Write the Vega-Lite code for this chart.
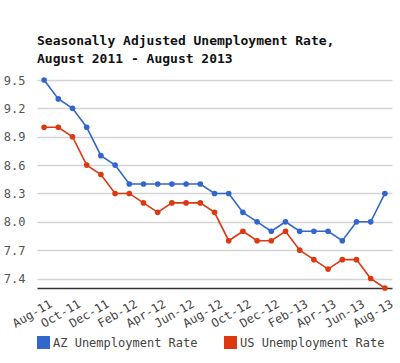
{
  "$schema": "https://vega.github.io/schema/vega-lite/v6.json",
  "width": 355,
  "height": 208,
  "autosize": {"type": "none"},
  "padding": {"left": 37, "top": 80, "right": 8, "bottom": 75},
  "background": "white",
  "title": {
    "text": ["Seasonally Adjusted Unemployment Rate,", "August 2011 - August 2013"],
    "anchor": "start",
    "frame": "group",
    "font": "DejaVu Sans Mono",
    "fontSize": 13,
    "fontWeight": "bold",
    "color": "#111111",
    "offset": 8,
    "lineHeight": 18
  },
  "data": {
    "values": [
      {"month": "Aug-11", "series": "AZ Unemployment Rate", "rate": 9.5},
      {"month": "Sep-11", "series": "AZ Unemployment Rate", "rate": 9.3},
      {"month": "Oct-11", "series": "AZ Unemployment Rate", "rate": 9.2},
      {"month": "Nov-11", "series": "AZ Unemployment Rate", "rate": 9.0},
      {"month": "Dec-11", "series": "AZ Unemployment Rate", "rate": 8.7},
      {"month": "Jan-12", "series": "AZ Unemployment Rate", "rate": 8.6},
      {"month": "Feb-12", "series": "AZ Unemployment Rate", "rate": 8.4},
      {"month": "Mar-12", "series": "AZ Unemployment Rate", "rate": 8.4},
      {"month": "Apr-12", "series": "AZ Unemployment Rate", "rate": 8.4},
      {"month": "May-12", "series": "AZ Unemployment Rate", "rate": 8.4},
      {"month": "Jun-12", "series": "AZ Unemployment Rate", "rate": 8.4},
      {"month": "Jul-12", "series": "AZ Unemployment Rate", "rate": 8.4},
      {"month": "Aug-12", "series": "AZ Unemployment Rate", "rate": 8.3},
      {"month": "Sep-12", "series": "AZ Unemployment Rate", "rate": 8.3},
      {"month": "Oct-12", "series": "AZ Unemployment Rate", "rate": 8.1},
      {"month": "Nov-12", "series": "AZ Unemployment Rate", "rate": 8.0},
      {"month": "Dec-12", "series": "AZ Unemployment Rate", "rate": 7.9},
      {"month": "Jan-13", "series": "AZ Unemployment Rate", "rate": 8.0},
      {"month": "Feb-13", "series": "AZ Unemployment Rate", "rate": 7.9},
      {"month": "Mar-13", "series": "AZ Unemployment Rate", "rate": 7.9},
      {"month": "Apr-13", "series": "AZ Unemployment Rate", "rate": 7.9},
      {"month": "May-13", "series": "AZ Unemployment Rate", "rate": 7.8},
      {"month": "Jun-13", "series": "AZ Unemployment Rate", "rate": 8.0},
      {"month": "Jul-13", "series": "AZ Unemployment Rate", "rate": 8.0},
      {"month": "Aug-13", "series": "AZ Unemployment Rate", "rate": 8.3},
      {"month": "Aug-11", "series": "US Unemployment Rate", "rate": 9.0},
      {"month": "Sep-11", "series": "US Unemployment Rate", "rate": 9.0},
      {"month": "Oct-11", "series": "US Unemployment Rate", "rate": 8.9},
      {"month": "Nov-11", "series": "US Unemployment Rate", "rate": 8.6},
      {"month": "Dec-11", "series": "US Unemployment Rate", "rate": 8.5},
      {"month": "Jan-12", "series": "US Unemployment Rate", "rate": 8.3},
      {"month": "Feb-12", "series": "US Unemployment Rate", "rate": 8.3},
      {"month": "Mar-12", "series": "US Unemployment Rate", "rate": 8.2},
      {"month": "Apr-12", "series": "US Unemployment Rate", "rate": 8.1},
      {"month": "May-12", "series": "US Unemployment Rate", "rate": 8.2},
      {"month": "Jun-12", "series": "US Unemployment Rate", "rate": 8.2},
      {"month": "Jul-12", "series": "US Unemployment Rate", "rate": 8.2},
      {"month": "Aug-12", "series": "US Unemployment Rate", "rate": 8.1},
      {"month": "Sep-12", "series": "US Unemployment Rate", "rate": 7.8},
      {"month": "Oct-12", "series": "US Unemployment Rate", "rate": 7.9},
      {"month": "Nov-12", "series": "US Unemployment Rate", "rate": 7.8},
      {"month": "Dec-12", "series": "US Unemployment Rate", "rate": 7.8},
      {"month": "Jan-13", "series": "US Unemployment Rate", "rate": 7.9},
      {"month": "Feb-13", "series": "US Unemployment Rate", "rate": 7.7},
      {"month": "Mar-13", "series": "US Unemployment Rate", "rate": 7.6},
      {"month": "Apr-13", "series": "US Unemployment Rate", "rate": 7.5},
      {"month": "May-13", "series": "US Unemployment Rate", "rate": 7.6},
      {"month": "Jun-13", "series": "US Unemployment Rate", "rate": 7.6},
      {"month": "Jul-13", "series": "US Unemployment Rate", "rate": 7.4},
      {"month": "Aug-13", "series": "US Unemployment Rate", "rate": 7.3}
    ]
  },
  "mark": {"type": "line", "strokeWidth": 1.6, "point": {"filled": true, "size": 32, "opacity": 1}},
  "encoding": {
    "x": {
      "field": "month",
      "type": "ordinal",
      "sort": null,
      "scale": {"type": "point", "padding": 0.5},
      "axis": {
        "title": null,
        "values": ["Aug-11", "Oct-11", "Dec-11", "Feb-12", "Apr-12", "Jun-12", "Aug-12", "Oct-12", "Dec-12", "Feb-13", "Apr-13", "Jun-13", "Aug-13"],
        "labelAngle": -30,
        "labelAlign": "right",
        "labelBaseline": "top",
        "labelPadding": 10,
        "labelOffset": 4,
        "ticks": false,
        "grid": false,
        "domainColor": "#333333",
        "domainWidth": 1.5,
        "labelFont": "DejaVu Sans Mono",
        "labelFontSize": 12,
        "labelColor": "#444444",
        "labelOverlap": false
      }
    },
    "y": {
      "field": "rate",
      "type": "quantitative",
      "scale": {"domain": [7.3, 9.5], "nice": false, "zero": false},
      "axis": {
        "title": null,
        "values": [7.4, 7.7, 8.0, 8.3, 8.6, 8.9, 9.2, 9.5],
        "format": ".1f",
        "ticks": false,
        "domain": false,
        "labelPadding": 12,
        "labelFont": "DejaVu Sans Mono",
        "labelFontSize": 12,
        "labelColor": "#555555",
        "gridColor": "#d4d4d4",
        "gridWidth": 1.5
      }
    },
    "color": {
      "field": "series",
      "type": "nominal",
      "scale": {"domain": ["AZ Unemployment Rate", "US Unemployment Rate"], "range": ["#3366cc", "#dc3912"]},
      "legend": {
        "title": null,
        "orient": "none",
        "legendX": 0,
        "legendY": 256,
        "direction": "horizontal",
        "symbolType": "square",
        "symbolSize": 169,
        "symbolStrokeWidth": 0,
        "labelOffset": 3,
        "columnPadding": 26,
        "labelFont": "DejaVu Sans Mono",
        "labelFontSize": 12,
        "labelColor": "#444444",
        "padding": 0,
        "encode": {"symbols": {"update": {"fill": {"scale": "color", "field": "value"}, "strokeWidth": {"value": 0}}}}
      }
    }
  },
  "config": {"view": {"stroke": null}}
}
